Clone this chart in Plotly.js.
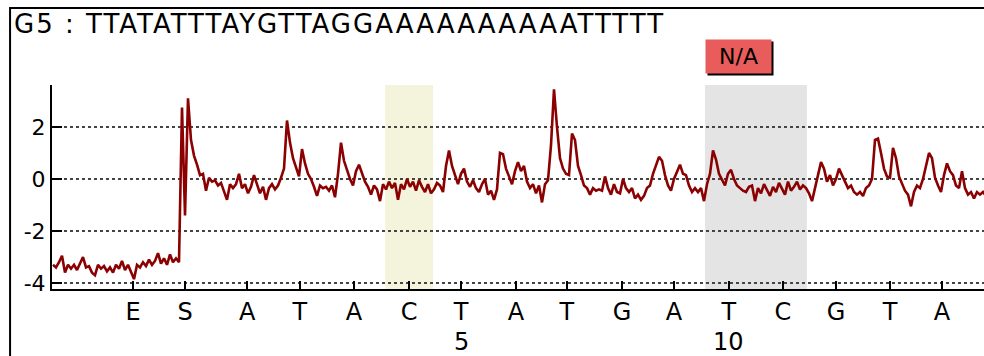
<!DOCTYPE html>
<html>
<head>
<meta charset="utf-8">
<script src="https://cdn.plot.ly/plotly-3.0.1.min.js"></script>
<style>html,body{margin:0;padding:0;background:#fff;}#chart{width:984px;height:356px;}
#chart .gtitle{letter-spacing:2px;}</style>
</head>
<body>
<div id="chart"></div>
<script>
const titleText = "G5 : TTATATTTAYGTTAGGAAAAAAAAAATTTTT";
const baseLabels = ["E","S","A","T","A","C","T","A","T","G","A","T","C","G","T","A"];
const basePos = [26.7, 44, 64.7, 82.3, 100.3, 118.7, 136, 154.3, 171.3, 189.7, 207, 225.3, 243.3, 261, 279, 296.3];
const yellowBases = [5];
const grayBases = [11, 12];
const grayLabel = "N/A";
const yTicks = [-4, -2, 0, 2];
const signal = [
-3.3,-3.4,-3.2,-2.95,-3.6,-3.3,-3.45,-3.3,-3.5,-3.25,
-3.0,-3.4,-3.35,-3.6,-3.7,-3.3,-3.45,-3.35,-3.55,-3.4,
-3.6,-3.3,-3.45,-3.15,-3.5,-3.3,-3.55,-3.85,-3.3,-3.4,
-3.2,-3.35,-3.1,-3.3,-3.15,-2.85,-3.25,-3.05,-3.3,-2.9,
-3.2,-3.05,-3.2,
2.75,-1.4,3.1,
1.5,0.9,0.55,0.15,0.2,-0.45,0.05,-0.1,-0.05,-0.25,-0.15,-0.5,-0.8,-0.2,-0.35,-0.2,0.2,-0.35,-0.2,-0.55,-0.3,0.15,-0.25,-0.55,-0.3,-0.8,-0.35,-0.2,-0.4,-0.25,0.05,0.4,
2.25,1.4,0.8,0.4,0.1,1.15,0.6,0.2,0.0,-0.3,-0.65,-0.25,-0.35,-0.3,-0.45,-0.25,-0.7,0.2,1.4,0.7,0.3,0.0,-0.25,0.3,0.55,0.2,-0.1,-0.3,-0.6,-0.25,-0.4,-0.85,-0.2,
-0.4,-0.1,-0.35,-0.15,-0.8,-0.2,-0.4,0.0,-0.3,-0.1,-0.45,-0.05,-0.3,-0.5,-0.2,-0.55,-0.4,-0.15,-0.25,-0.5,
0.5,1.1,0.5,0.15,-0.2,0.2,0.4,-0.1,-0.3,-0.05,-0.35,-0.5,-0.2,0.0,-0.6,-0.45,-0.8,-0.4,1.0,0.95,0.4,0.1,-0.2,0.3,0.65,0.3,0.5,-0.1,-0.35,-0.2,-0.55,-0.25,-0.9,-0.2,-0.05,
1.3,3.45,2.0,0.8,0.4,0.2,0.15,1.75,1.5,0.5,0.15,-0.25,-0.35,-0.6,-0.35,-0.45,-0.4,-0.45,0.1,-0.35,-0.6,-0.2,-0.5,-0.55,0.0,-0.35,-0.5,-0.35,-0.75,-0.6,-0.8,-0.65,-0.35,-0.25,
0.2,0.55,0.85,0.7,0.15,-0.25,-0.45,0.0,0.3,0.55,0.2,0.15,-0.25,-0.5,-0.35,-0.5,-0.35,-0.85,-0.2,0.2,1.1,0.75,0.2,0.0,-0.25,0.2,0.35,0.0,-0.25,-0.35,-0.45,-0.5,-0.3,
-0.25,-0.85,-0.35,-0.55,-0.2,-0.45,-0.65,-0.3,-0.5,-0.15,-0.4,-0.6,-0.1,-0.45,-0.3,-0.1,-0.4,-0.25,-0.35,-0.55,-0.85,-0.35,0.15,0.65,0.4,-0.1,0.15,-0.25,0.0,0.4,0.15,-0.1,-0.35,-0.25,-0.5,-0.6,-0.5,-0.65,-0.35,-0.25,0.0,
1.5,1.55,1.0,0.4,0.1,0.05,1.2,0.8,0.1,-0.2,-0.45,-0.6,-1.05,-0.5,-0.25,-0.35,0.0,0.5,1.0,0.8,0.05,-0.25,-0.5,0.15,0.6,0.3,0.15,-0.25,-0.35,0.3,-0.35,-0.6,-0.5,-0.75,-0.5,-0.6,-0.5,-0.65
];

const FONT = "DejaVu Sans, Verdana, sans-serif";
const HALF = 8;
const sampleIdx = signal.map((_, i) => i);

function span(idxs) {
  return [Math.min(...idxs.map(i => basePos[i])) - HALF, Math.max(...idxs.map(i => basePos[i])) + HALF];
}
const ySpan = span(yellowBases);
const gSpan = span(grayBases);

const shapes = [
  {type:"rect", xref:"x", yref:"paper", x0:ySpan[0], x1:ySpan[1], y0:0, y1:1, fillcolor:"#f4f4dc", line:{width:0}, layer:"below"},
  {type:"rect", xref:"x", yref:"paper", x0:gSpan[0], x1:gSpan[1], y0:0, y1:1, fillcolor:"#e4e4e4", line:{width:0}, layer:"below"},
  {type:"rect", xref:"paper", yref:"paper", x0:-0.045, x1:1.05, y0:1.377, y1:-0.6, line:{color:"#000", width:2}, fillcolor:"rgba(0,0,0,0)"}
];

const annotations = [
  {xref:"x", yref:"paper", x:gSpan[0], y:1.14, xanchor:"left", yanchor:"middle", text:"", showarrow:false,
   width:63, height:31, bgcolor:"#000", borderpad:1, xshift:2, yshift:-2},
  {xref:"x", yref:"paper", x:gSpan[0], y:1.14, xanchor:"left", yanchor:"middle", text:grayLabel, showarrow:false,
   width:63, height:31, bgcolor:"#e95c5c", borderpad:1, font:{family:FONT, size:22, color:"#000"}}
];
baseLabels.forEach((lab, k) => {
  const n = k - 1;
  if (n > 0 && n % 5 === 0) {
    annotations.push({xref:"x", yref:"paper", x:basePos[k], y:-0.26, xanchor:"center", yanchor:"middle",
      text:String(n), showarrow:false, font:{family:FONT, size:24, color:"#000"}});
  }
});

const data = [{
  type:"scatter", mode:"lines", x:sampleIdx, y:signal,
  line:{color:"#8b0000", width:2.6}, hoverinfo:"skip"
}];

const layout = {
  width:984, height:356,
  margin:{l:52, r:0, t:85, b:67, pad:0},
  paper_bgcolor:"#fff", plot_bgcolor:"#fff",
  showlegend:false,
  font:{family:FONT, color:"#000"},
  title:{text:titleText, xref:"container", yref:"container", x:14/984, xanchor:"left", y:1-24/356, yanchor:"middle",
    font:{family:FONT, size:26, color:"#000"}},
  xaxis:{range:[-0.333, 310.333], tickmode:"array", tickvals:basePos, ticktext:baseLabels,
    ticks:"inside", ticklen:8, tickwidth:2, tickcolor:"#000",
    showline:true, linecolor:"#000", linewidth:2, showgrid:false, zeroline:false,
    tickfont:{family:FONT, size:24, color:"#000"}},
  yaxis:{range:[-4.23, 3.615], tickmode:"array", tickvals:yTicks, ticktext:yTicks.map(String),
    ticks:"inside", ticklen:10, tickwidth:2, tickcolor:"#000",
    showline:true, linecolor:"#000", linewidth:2, showgrid:true, gridcolor:"#444", gridwidth:1.5, griddash:"dot",
    zeroline:false, tickfont:{family:FONT, size:22, color:"#000"}},
  shapes:shapes,
  annotations:annotations
};

Plotly.newPlot("chart", data, layout, {staticPlot:true, displayModeBar:false});
</script>
</body>
</html>
